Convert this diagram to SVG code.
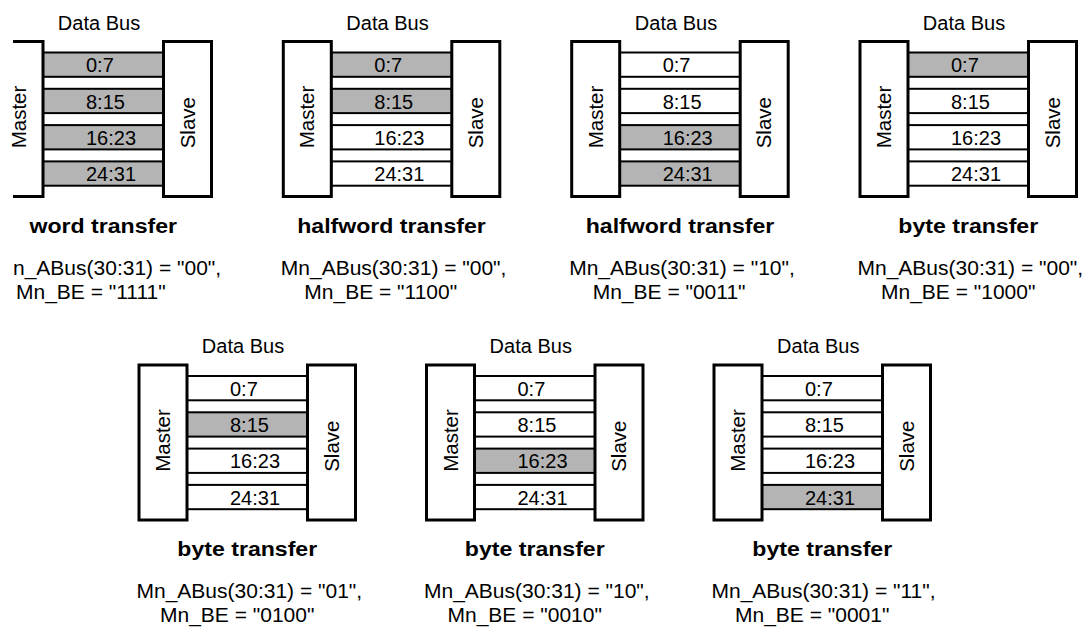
<svg xmlns="http://www.w3.org/2000/svg" width="1089" height="627" viewBox="0 0 1089 627">
<style>
.box{fill:#fff;stroke:#000;stroke-width:3}
.edge{fill:none;stroke:#000;stroke-width:3}
.lane{stroke:#000;stroke-width:2}
.on{fill:#b4b4b4}
.off{fill:#fff}
text{font-family:"Liberation Sans",Arial,sans-serif;fill:#000}
.db{font-size:20px;text-anchor:middle}
.lb{font-size:20px}
.rot{font-size:20.5px}
.ttl{font-size:21px;font-weight:bold;text-anchor:middle}
.cap{font-size:21px}
</style>
<rect width="1089" height="627" fill="#fff"/>

<!-- Panel 1 -->
<g id="panel1">
<text class="db" x="99" y="29.5">Data Bus</text>
<g id="p1-bus" class="connectors">
<rect class="lane on" x="43" y="52.5" width="120.5" height="24.3"/>
<rect class="lane on" x="43" y="88.8" width="120.5" height="24.3"/>
<rect class="lane on" x="43" y="125.1" width="120.5" height="24.3"/>
<rect class="lane on" x="43" y="161.4" width="120.5" height="24.3"/>
<text class="lb" x="86" y="72.3">0:7</text>
<text class="lb" x="86" y="108.6">8:15</text>
<text class="lb" x="86" y="144.9">16:23</text>
<text class="lb" x="86" y="181.2">24:31</text>
</g>
<g id="p1-master">
<path class="edge" d="M13,41.5 H43 V196.5 H13"/>
<text class="rot" transform="translate(26,148.3) rotate(-90)">Master</text>
</g>
<g id="p1-slave">
<rect class="box" x="163.5" y="41.5" width="48" height="155"/>
<text class="rot" transform="translate(194.5,148.3) rotate(-90)">Slave</text>
</g>
<text class="ttl" transform="translate(103.25,232.7) scale(1.1,1)">word transfer</text>
<text class="cap" x="13" y="274.5">n_ABus(30:31) = "00",</text>
<text class="cap" x="16" y="298.5">Mn_BE = "1111"</text>
</g>

<!-- Panel 2 -->
<g id="panel2">
<text class="db" x="387.5" y="29.5">Data Bus</text>
<g id="p2-bus" class="connectors">
<rect class="lane on" x="331.3" y="52.5" width="120.5" height="24.3"/>
<rect class="lane on" x="331.3" y="88.8" width="120.5" height="24.3"/>
<rect class="lane off" x="331.3" y="125.1" width="120.5" height="24.3"/>
<rect class="lane off" x="331.3" y="161.4" width="120.5" height="24.3"/>
<text class="lb" x="374.3" y="72.3">0:7</text>
<text class="lb" x="374.3" y="108.6">8:15</text>
<text class="lb" x="374.3" y="144.9">16:23</text>
<text class="lb" x="374.3" y="181.2">24:31</text>
</g>
<g id="p2-master">
<rect class="box" x="283.3" y="41.5" width="48" height="155"/>
<text class="rot" transform="translate(314.3,148.3) rotate(-90)">Master</text>
</g>
<g id="p2-slave">
<rect class="box" x="451.8" y="41.5" width="48" height="155"/>
<text class="rot" transform="translate(482.8,148.3) rotate(-90)">Slave</text>
</g>
<text class="ttl" transform="translate(391.5,232.7) scale(1.1,1)">halfword transfer</text>
<text class="cap" x="280.8" y="274.5">Mn_ABus(30:31) = "00",</text>
<text class="cap" x="304.3" y="298.5">Mn_BE = "1100"</text>
</g>

<!-- Panel 3 -->
<g id="panel3">
<text class="db" x="676" y="29.5">Data Bus</text>
<g id="p3-bus" class="connectors">
<rect class="lane off" x="619.7" y="52.5" width="120.5" height="24.3"/>
<rect class="lane off" x="619.7" y="88.8" width="120.5" height="24.3"/>
<rect class="lane on" x="619.7" y="125.1" width="120.5" height="24.3"/>
<rect class="lane on" x="619.7" y="161.4" width="120.5" height="24.3"/>
<text class="lb" x="662.7" y="72.3">0:7</text>
<text class="lb" x="662.7" y="108.6">8:15</text>
<text class="lb" x="662.7" y="144.9">16:23</text>
<text class="lb" x="662.7" y="181.2">24:31</text>
</g>
<g id="p3-master">
<rect class="box" x="571.7" y="41.5" width="48" height="155"/>
<text class="rot" transform="translate(602.7,148.3) rotate(-90)">Master</text>
</g>
<g id="p3-slave">
<rect class="box" x="740.2" y="41.5" width="48" height="155"/>
<text class="rot" transform="translate(771.2,148.3) rotate(-90)">Slave</text>
</g>
<text class="ttl" transform="translate(680,232.7) scale(1.1,1)">halfword transfer</text>
<text class="cap" x="569.2" y="274.5">Mn_ABus(30:31) = "10",</text>
<text class="cap" x="592.7" y="298.5">Mn_BE = "0011"</text>
</g>

<!-- Panel 4 -->
<g id="panel4">
<text class="db" x="964" y="29.5">Data Bus</text>
<g id="p4-bus" class="connectors">
<rect class="lane on" x="908" y="52.5" width="120.5" height="24.3"/>
<rect class="lane off" x="908" y="88.8" width="120.5" height="24.3"/>
<rect class="lane off" x="908" y="125.1" width="120.5" height="24.3"/>
<rect class="lane off" x="908" y="161.4" width="120.5" height="24.3"/>
<text class="lb" x="951" y="72.3">0:7</text>
<text class="lb" x="951" y="108.6">8:15</text>
<text class="lb" x="951" y="144.9">16:23</text>
<text class="lb" x="951" y="181.2">24:31</text>
</g>
<g id="p4-master">
<rect class="box" x="860" y="41.5" width="48" height="155"/>
<text class="rot" transform="translate(891,148.3) rotate(-90)">Master</text>
</g>
<g id="p4-slave">
<rect class="box" x="1028.5" y="41.5" width="48" height="155"/>
<text class="rot" transform="translate(1059.5,148.3) rotate(-90)">Slave</text>
</g>
<text class="ttl" transform="translate(968.25,232.7) scale(1.1,1)">byte transfer</text>
<text class="cap" x="857.5" y="274.5">Mn_ABus(30:31) = "00",</text>
<text class="cap" x="881" y="298.5">Mn_BE = "1000"</text>
</g>

<!-- Panel 5 -->
<g id="panel5">
<text class="db" x="243" y="353">Data Bus</text>
<g id="p5-bus" class="connectors">
<rect class="lane off" x="187" y="376" width="120.5" height="24.3"/>
<rect class="lane on" x="187" y="412.3" width="120.5" height="24.3"/>
<rect class="lane off" x="187" y="448.6" width="120.5" height="24.3"/>
<rect class="lane off" x="187" y="484.9" width="120.5" height="24.3"/>
<text class="lb" x="230" y="395.8">0:7</text>
<text class="lb" x="230" y="432.1">8:15</text>
<text class="lb" x="230" y="468.4">16:23</text>
<text class="lb" x="230" y="504.7">24:31</text>
</g>
<g id="p5-master">
<rect class="box" x="139" y="365" width="48" height="155"/>
<text class="rot" transform="translate(170,471.8) rotate(-90)">Master</text>
</g>
<g id="p5-slave">
<rect class="box" x="307.5" y="365" width="48" height="155"/>
<text class="rot" transform="translate(338.5,471.8) rotate(-90)">Slave</text>
</g>
<text class="ttl" transform="translate(247.25,556) scale(1.1,1)">byte transfer</text>
<text class="cap" x="136.5" y="597.5">Mn_ABus(30:31) = "01",</text>
<text class="cap" x="160" y="621.5">Mn_BE = "0100"</text>
</g>

<!-- Panel 6 -->
<g id="panel6">
<text class="db" x="530.75" y="353">Data Bus</text>
<g id="p6-bus" class="connectors">
<rect class="lane off" x="474.5" y="376" width="120.5" height="24.3"/>
<rect class="lane off" x="474.5" y="412.3" width="120.5" height="24.3"/>
<rect class="lane on" x="474.5" y="448.6" width="120.5" height="24.3"/>
<rect class="lane off" x="474.5" y="484.9" width="120.5" height="24.3"/>
<text class="lb" x="517.5" y="395.8">0:7</text>
<text class="lb" x="517.5" y="432.1">8:15</text>
<text class="lb" x="517.5" y="468.4">16:23</text>
<text class="lb" x="517.5" y="504.7">24:31</text>
</g>
<g id="p6-master">
<rect class="box" x="426.5" y="365" width="48" height="155"/>
<text class="rot" transform="translate(457.5,471.8) rotate(-90)">Master</text>
</g>
<g id="p6-slave">
<rect class="box" x="595" y="365" width="48" height="155"/>
<text class="rot" transform="translate(626,471.8) rotate(-90)">Slave</text>
</g>
<text class="ttl" transform="translate(534.75,556) scale(1.1,1)">byte transfer</text>
<text class="cap" x="424" y="597.5">Mn_ABus(30:31) = "10",</text>
<text class="cap" x="447.5" y="621.5">Mn_BE = "0010"</text>
</g>

<!-- Panel 7 -->
<g id="panel7">
<text class="db" x="818.25" y="353">Data Bus</text>
<g id="p7-bus" class="connectors">
<rect class="lane off" x="762" y="376" width="120.5" height="24.3"/>
<rect class="lane off" x="762" y="412.3" width="120.5" height="24.3"/>
<rect class="lane off" x="762" y="448.6" width="120.5" height="24.3"/>
<rect class="lane on" x="762" y="484.9" width="120.5" height="24.3"/>
<text class="lb" x="805" y="395.8">0:7</text>
<text class="lb" x="805" y="432.1">8:15</text>
<text class="lb" x="805" y="468.4">16:23</text>
<text class="lb" x="805" y="504.7">24:31</text>
</g>
<g id="p7-master">
<rect class="box" x="714" y="365" width="48" height="155"/>
<text class="rot" transform="translate(745,471.8) rotate(-90)">Master</text>
</g>
<g id="p7-slave">
<rect class="box" x="882.5" y="365" width="48" height="155"/>
<text class="rot" transform="translate(913.5,471.8) rotate(-90)">Slave</text>
</g>
<text class="ttl" transform="translate(822.25,556) scale(1.1,1)">byte transfer</text>
<text class="cap" x="711.5" y="597.5">Mn_ABus(30:31) = "11",</text>
<text class="cap" x="735" y="621.5">Mn_BE = "0001"</text>
</g>
</svg>
